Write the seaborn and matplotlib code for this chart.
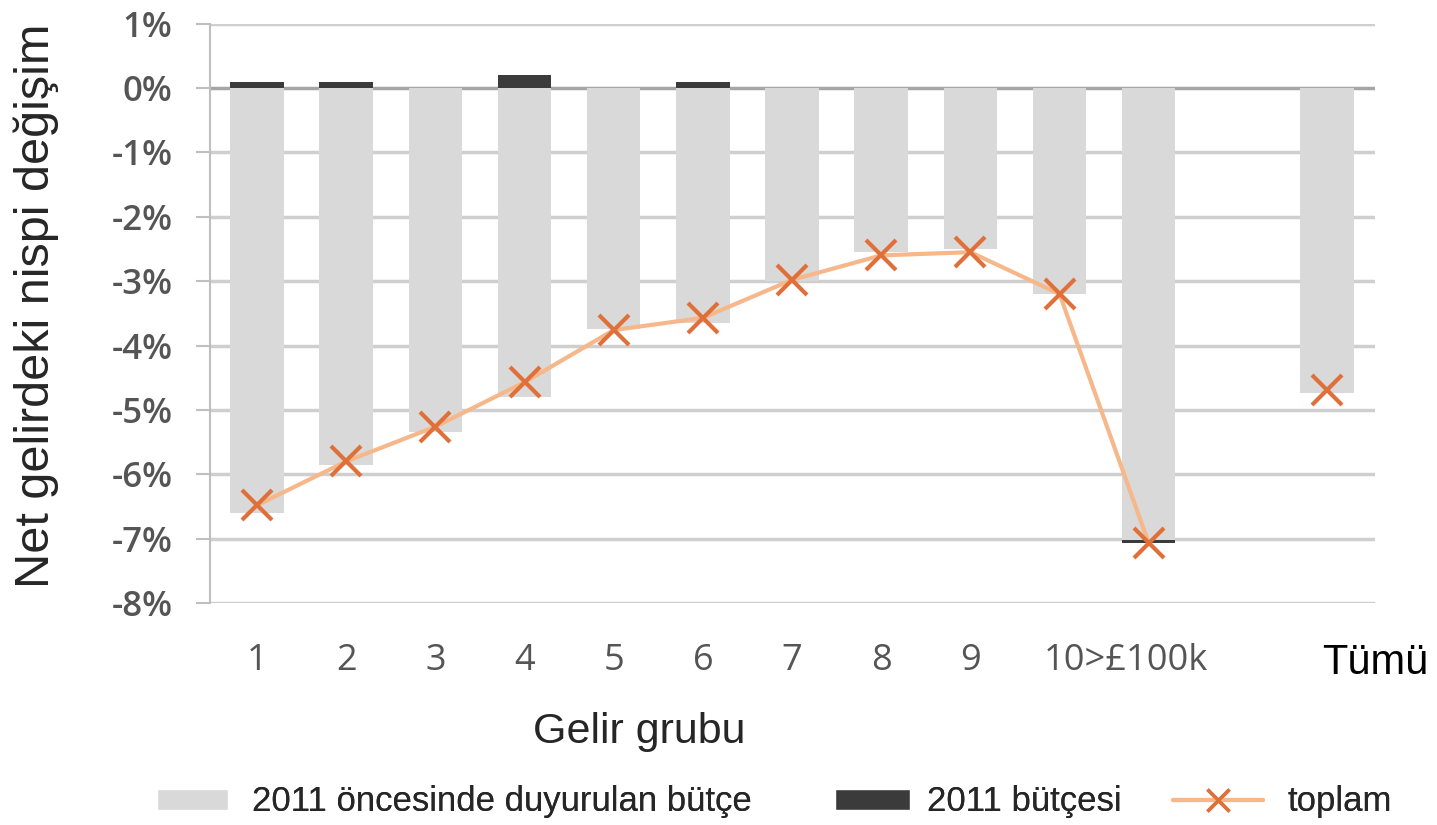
import numpy as np
import pandas as pd
import matplotlib

matplotlib.use("Agg")
import matplotlib.pyplot as plt
import seaborn as sns
from matplotlib.patches import Patch
from matplotlib.lines import Line2D

# data (values in %)
categories = ["1", "2", "3", "4", "5", "6", "7", "8", "9", "10", ">£100k", " ", "Tümü"]
pre_2011 = [-6.6, -5.85, -5.35, -4.8, -3.75, -3.65, -3.0, -2.55, -2.5, -3.2, -7.02, np.nan, -4.74]
budget_2011 = [0.1, 0.1, 0.0, 0.2, 0.0, 0.1, 0.0, 0.0, 0.0, 0.0, -0.05, np.nan, 0.0]
total = [-6.48, -5.8, -5.26, -4.57, -3.76, -3.57, -2.98, -2.6, -2.55, -3.2, -7.07, np.nan, -4.69]
y_ticks = [1, 0, -1, -2, -3, -4, -5, -6, -7, -8]
x_tick_labels = ["1", "2", "3", "4", "5", "6", "7", "8", "9", "10>£100k", "Tümü"]

df = pd.DataFrame(
    {"grup": categories, "pre": pre_2011, "b2011": budget_2011, "toplam": total}
)
# dark segment: positive part sits on zero, negative part stacks under the grey bar
df["dark_end"] = np.where(df["b2011"] > 0, df["b2011"], df["pre"] + df["b2011"])

light_grey = "#d9d9d9"
dark_grey = "#3b3b3b"
line_orange = "#f6b88a"
marker_orange = "#e0703a"
tick_grey = "#555555"

sns.set_style("white")
plt.rcParams["font.family"] = ["Liberation Sans", "DejaVu Sans"]

fig = plt.figure(figsize=(14.37, 8.25), dpi=100)
ax = fig.add_axes([0.146, 0.269, 0.811, 0.7024])

# grid lines behind everything
for t in y_ticks:
    ax.axhline(t, color="#a6a6a6" if t == 0 else "#cfcfcf", lw=2.5, zorder=0)

sns.barplot(data=df, x="grup", y="dark_end", order=categories, color=dark_grey,
            saturation=1, width=0.6, errorbar=None, linewidth=0, ax=ax, zorder=2)
sns.barplot(data=df, x="grup", y="pre", order=categories, color=light_grey,
            saturation=1, width=0.6, errorbar=None, linewidth=0, ax=ax, zorder=3)

sns.pointplot(data=df.iloc[:11], x="grup", y="toplam", order=categories, color=line_orange,
              markers="x", markersize=22, markeredgewidth=3, markeredgecolor=marker_orange,
              linewidth=3, errorbar=None, ax=ax, zorder=5)
sns.pointplot(data=df.iloc[12:], x="grup", y="toplam", order=categories, color=line_orange,
              markers="x", linestyles="none", markersize=22, markeredgewidth=3,
              markeredgecolor=marker_orange, errorbar=None, ax=ax, zorder=5)

ax.set_xlim(-0.53, 12.52)
ax.set_ylim(-8, 1)
ax.set_yticks(y_ticks)
ax.set_yticklabels([f"{t}%" for t in y_ticks], fontsize=25, color=tick_grey,
                   family=["Open Sans", "DejaVu Sans"], fontweight="semibold")
ax.tick_params(axis="y", direction="out", length=10, width=1.5, color="#bfbfbf", pad=17, left=True)

xpos = list(range(9)) + [9.74, 12.54]
ax.set_xticks(xpos)
ax.set_xticklabels(x_tick_labels, fontsize=26, color=tick_grey,
                   family=["Open Sans", "DejaVu Sans"])
last = ax.get_xticklabels()[-1]
last.set_fontsize(30)
last.set_color("black")
last.set_family(["Liberation Sans", "DejaVu Sans"])
ax.tick_params(axis="x", length=0, pad=29)
ax.set_xlabel("")
ax.set_ylabel("")

for side in ["top", "right", "bottom"]:
    ax.spines[side].set_visible(False)
ax.spines["left"].set_color("#bfbfbf")
ax.spines["left"].set_linewidth(1.5)

fig.text(0.4447, 0.0994, "Gelir grubu", ha="center", va="baseline", fontsize=31)
fig.text(0.0254, 0.629, "Net gelirdeki nispi değişim", ha="center", va="center",
         rotation=90, fontsize=35)

# legend, one block per entry to match the uneven spacing
entries = [
    (Patch(facecolor=light_grey), "2011 öncesinde duyurulan bütçe", 0.109, 2.05, 0.7),
    (Patch(facecolor=dark_grey), "2011 bütçesi", 0.581, 2.15, 0.5),
    (Line2D([], [], color=line_orange, lw=3, marker="x", markersize=16,
            markeredgewidth=2.5, markeredgecolor=marker_orange), "toplam", 0.816, 2.6, 0.7),
]
for handle, label, x0, hl, tp in entries:
    leg = fig.legend([handle], [label], loc="center left", bbox_to_anchor=(x0, 0.028),
                     frameon=False, fontsize=25, handlelength=hl, handleheight=0.55,
                     handletextpad=tp, borderpad=0, borderaxespad=0)
    fig.add_artist(leg)

fig.savefig("out.png", dpi=100)
